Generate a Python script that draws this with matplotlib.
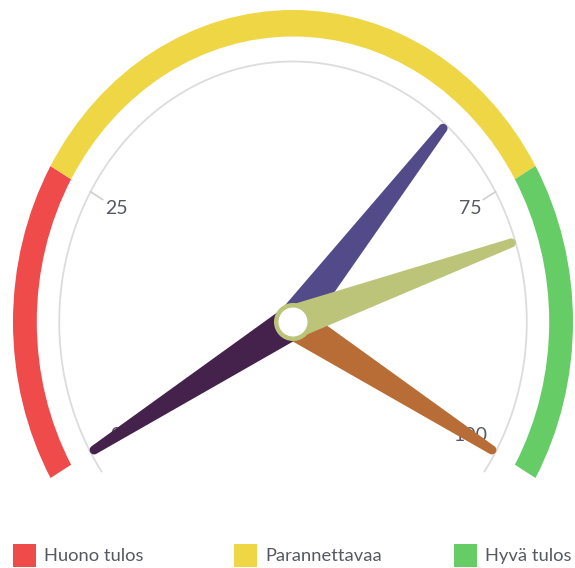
import numpy as np
import matplotlib
matplotlib.use("Agg")
import matplotlib.pyplot as plt
from matplotlib.patches import Wedge, Polygon, Ellipse, Rectangle

# ---- data ----
band_names = ["Huono tulos", "Parannettavaa", "Hyvä tulos"]
band_starts = [0, 25, 75]
band_ends = [25, 75, 100]
band_colors = ["#ef4b4b", "#efd645", "#66cc66"]

hand_values = [0, 67, 80, 100]
hand_colors = ["#44224b", "#534a89", "#bcc47a", "#b86d36"]
hand_order = [0, 1, 3, 2]  # draw order (last on top)

tick_values = [0, 25, 75, 100]
tick_labels = ["0", "25", "75", "100"]

# ---- geometry / style ----
W, H = 575, 568
CX, CY = 293, 322          # pixel centre
SX, SY = 280, 312          # pixels per data unit (x, y)
START_ANG, END_ANG = 210.0, -30.0
VMIN, VMAX = 0.0, 100.0

def v2a(v):
    return START_ANG + (END_ANG - START_ANG) * (v - VMIN) / (VMAX - VMIN)

fig = plt.figure(figsize=(W / 100, H / 100), dpi=100)
ax = fig.add_axes([0, 0, 1, 1])
ax.set_xlim(-CX / SX, (W - CX) / SX)
ax.set_ylim(-(H - CY) / SY, CY / SY)
ax.set_aspect("auto")
ax.axis("off")

FONT = "Lato"
TXT = "#555a62"

# bands
for s, e, c in zip(band_starts, band_ends, band_colors):
    ax.add_patch(Wedge((0, 0), 1.0, v2a(e), v2a(s), width=0.085,
                       facecolor=c, edgecolor="none", zorder=2))

# thin axis circle
t = np.radians(np.linspace(215, -35, 400))
ax.plot(0.835 * np.cos(t), 0.835 * np.sin(t), color="#dcdcdc", lw=1.3, zorder=1)

# ticks and labels
for v, lab in zip(tick_values, tick_labels):
    a = np.radians(v2a(v))
    ax.plot([0.835 * np.cos(a), 0.785 * np.cos(a)],
            [0.835 * np.sin(a), 0.785 * np.sin(a)], color="#cfcfcf", lw=1.2, zorder=1)
    ax.text(0.73 * np.cos(a), 0.73 * np.sin(a), lab, ha="center", va="center",
            fontsize=14, family=FONT, color=TXT, zorder=1)

# hands (built in pixel space, converted to data)
TIP_R = 0.82
def hand_poly(v, w0=17.0, w1=4.5):
    a = np.radians(v2a(v))
    tipx, tipy = TIP_R * np.cos(a) * SX, TIP_R * np.sin(a) * SY
    L = np.hypot(tipx, tipy)
    ux, uy = tipx / L, tipy / L
    px, py = -uy, ux
    pts = [(px * w0, py * w0)]
    pts.append((tipx + px * w1, tipy + py * w1))
    phi0 = np.arctan2(py, px)
    for k in np.linspace(0, np.pi, 15)[1:-1]:
        ang = phi0 - k
        pts.append((tipx + w1 * np.cos(ang), tipy + w1 * np.sin(ang)))
    pts.append((tipx - px * w1, tipy - py * w1))
    pts.append((-px * w0, -py * w0))
    return np.array([(x / SX, y / SY) for x, y in pts])

for i in hand_order:
    ax.add_patch(Polygon(hand_poly(hand_values[i]), closed=True,
                         facecolor=hand_colors[i], edgecolor="none", zorder=5))

# hub
ax.add_patch(Ellipse((0, 0), 2 * 19 / SX, 2 * 19 / SY, facecolor="#bcc47a",
                     edgecolor="none", zorder=6))
ax.add_patch(Ellipse((0, 0), 2 * 14.5 / SX, 2 * 14.5 / SY, facecolor="white",
                     edgecolor="none", zorder=7))

# legend
leg_x = [13, 234, 454]
for x0, name, c in zip(leg_x, band_names, band_colors):
    fig.add_artist(Rectangle((x0 / W, 1 - 567 / H), 23 / W, 23 / H,
                             transform=fig.transFigure, facecolor=c, edgecolor="none"))
    fig.text((x0 + 31) / W, 1 - 556 / H, name, ha="left", va="center",
             fontsize=13.2, family=FONT, color=TXT)

fig.savefig("out.png", dpi=100)
